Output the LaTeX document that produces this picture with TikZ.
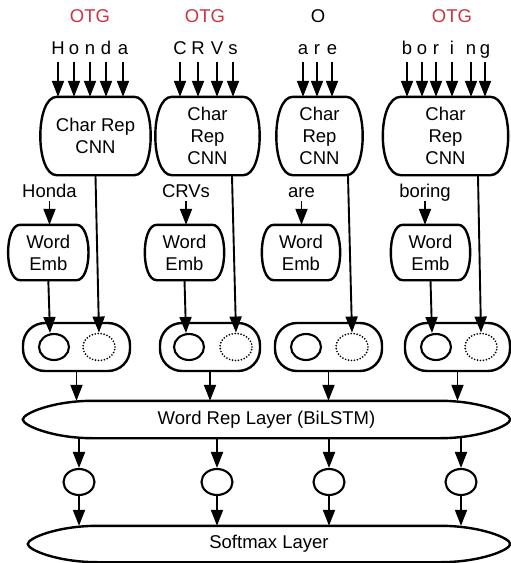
\documentclass[tikz,border=0pt]{standalone}
\usepackage{fontspec}
\setmainfont{Liberation Sans}
\usetikzlibrary{arrows.meta,shapes.geometric,calc}
\definecolor{otgred}{RGB}{204,51,68}
\tikzset{
  txt/.style={font=\fontsize{18.5}{22}\selectfont},
  box/.style={txt, align=center, inner sep=0pt},
  outline/.style={line width=2.4pt},
  arr/.style={line width=1.9pt, -{Triangle[length=16pt,width=12pt]}},
  letter/.style={txt, anchor=base, inner sep=0pt},
  otg/.style={txt, anchor=base, inner sep=0pt, text=otgred},
  pill/.style={draw, line width=2.4pt, rounded corners=22pt, minimum height=48pt, inner sep=0pt},
  solc/.style={draw, ellipse, line width=2.1pt, minimum width=30pt, minimum height=26pt, inner sep=0pt},
  dotc/.style={draw, ellipse, line width=1.9pt, dash pattern=on 0pt off 3pt, line cap=round, minimum width=32pt, minimum height=27pt, inner sep=0pt},
  smallc/.style={draw, ellipse, line width=2.1pt, minimum width=31pt, minimum height=26pt, inner sep=0pt},
  layer/.style={txt, inner sep=0pt},
}
\newcommand\bulgeout[3]{\draw[outline] ([xshift=#2]#1.north west) -- ([xshift=-#2]#1.north east) .. controls ([xshift=#3]#1.north east) and ([xshift=#3]#1.south east) .. ([xshift=-#2]#1.south east) -- ([xshift=#2]#1.south west) .. controls ([xshift=-#3]#1.south west) and ([xshift=-#3]#1.north west) .. cycle;}
\newcommand\lensout[1]{\draw[outline] (#1.west) .. controls ([yshift=6pt]#1.west) and ([xshift=30pt]#1.north west) .. ([xshift=70pt]#1.north west) -- ([xshift=-70pt]#1.north east) .. controls ([xshift=-30pt]#1.north east) and ([yshift=6pt]#1.east) .. (#1.east) .. controls ([yshift=-6pt]#1.east) and ([xshift=-30pt]#1.south east) .. ([xshift=-70pt]#1.south east) -- ([xshift=70pt]#1.south west) .. controls ([xshift=30pt]#1.south west) and ([yshift=-6pt]#1.west) .. cycle;}
\begin{document}
\begin{tikzpicture}[x=1pt,y=-1pt]
\useasboundingbox (0,0) rectangle (511,563);
% OTG labels
\node[otg] (t1) at (90,22) {OTG};
\node[otg] (t2) at (205,22) {OTG};
\node[letter] (t3) at (318,22) {O};
\node[otg] (t4) at (452,22) {OTG};
% CNN boxes
\node[box, minimum width=109pt, minimum height=78pt] (cnn1) at (95.5,136) {Char Rep\\CNN};
\node[box, minimum width=103pt, minimum height=78pt] (cnn2) at (207.5,136) {Char\\Rep\\CNN};
\node[box, minimum width=85pt, minimum height=78pt] (cnn3) at (319.5,136) {Char\\Rep\\CNN};
\node[box, minimum width=125pt, minimum height=78pt] (cnn4) at (445.5,136) {Char\\Rep\\CNN};
\bulgeout{cnn1}{16pt}{6pt}
\bulgeout{cnn2}{16pt}{6pt}
\bulgeout{cnn3}{16pt}{6pt}
\bulgeout{cnn4}{18pt}{6pt}
% letters
\foreach \ch/\x [count=\i] in {H/58,o/74,n/90,d/106,a/123}{
  \node[letter] (a\i) at (\x,54) {\ch};
  \draw[arr] ([yshift=-8pt]a\i.base) -- (a\i.base |- cnn1.north);
}
\foreach \ch/\x [count=\i] in {C/180,R/198,V/217,s/233}{
  \node[letter] (b\i) at (\x,54) {\ch};
  \draw[arr] ([yshift=-8pt]b\i.base) -- (b\i.base |- cnn2.north);
}
\foreach \ch/\x [count=\i] in {a/303,r/317,e/332}{
  \node[letter] (c\i) at (\x,54) {\ch};
  \draw[arr] ([yshift=-8pt]c\i.base) -- (c\i.base |- cnn3.north);
}
\foreach \ch/\x [count=\i] in {b/407,o/422,r/436,i/452,n/471,g/485}{
  \node[letter] (d\i) at (\x,54) {\ch};
  \draw[arr] ([yshift=-8pt]d\i.base) -- (d\i.base |- cnn4.north);
}
% word labels
\node[letter] (w1) at (49.5,197) {Honda};
\node[letter] (w2) at (186,197) {CRVs};
\node[letter] (w3) at (301.5,197) {are};
\node[letter] (w4) at (425,197) {boring};
% Word Emb boxes
\node[box, minimum width=80pt, minimum height=55pt] (web1) at (48.3,252.5) {Word\\Emb};
\node[box, minimum width=79pt, minimum height=55pt] (web2) at (184.5,252.5) {Word\\Emb};
\node[box, minimum width=78pt, minimum height=55pt] (web3) at (301,252.5) {Word\\Emb};
\node[box, minimum width=79pt, minimum height=55pt] (web4) at (430.5,252.5) {Word\\Emb};
\bulgeout{web1}{12pt}{4pt}
\bulgeout{web2}{12pt}{4pt}
\bulgeout{web3}{12pt}{4pt}
\bulgeout{web4}{12pt}{4pt}
\draw[arr] ([yshift=-4pt]w1.base) -- (w1.base |- web1.north);
\draw[arr] ([yshift=-4pt]w2.base) -- (w2.base |- web2.north);
\draw[arr] ([yshift=-4pt]w3.base) -- (w3.base |- web3.north);
\draw[arr] ([yshift=-4pt]w4.base) -- (w4.base |- web4.north);
% pills
\node[pill, minimum width=107pt] (p1) at (76.5,347) {};
\node[pill, minimum width=100pt] (p2) at (210,347) {};
\node[pill, minimum width=107pt] (p3) at (328.5,347) {};
\node[pill, minimum width=105pt] (p4) at (457.5,347) {};
\node[solc] (s1) at (54,347) {};
\node[dotc] (o1) at (99,347) {};
\node[solc] (s2) at (189,347) {};
\node[dotc] (o2) at (236,347) {};
\node[solc] (s3) at (306,347) {};
\node[dotc] (o3) at (352,347) {};
\node[solc] (s4) at (436,347) {};
\node[dotc] (o4) at (481,347) {};
% CNN -> dotted
\draw[arr] ([yshift=-1pt]cnn1.south) -- (o1.north);
\draw[arr] ([xshift=24.5pt,yshift=-1pt]cnn2.south) -- (o2.north);
\draw[arr] ([xshift=28.5pt,yshift=-1pt]cnn3.south) -- (o3.north);
\draw[arr] ([xshift=32.5pt,yshift=-1pt]cnn4.south) -- (o4.north);
% Word Emb -> solid
\draw[arr] (web1.south) -- ([xshift=-4pt]s1.north);
\draw[arr] (web2.south) -- ([xshift=-3pt]s2.north);
\draw[arr] (web4.south) -- ([xshift=-4pt]s4.north);
% layers
\node[layer, minimum width=487pt, minimum height=37pt] (wrl) at (266.5,419.5) {Word Rep Layer (BiLSTM)};
\lensout{wrl}
\node[layer, minimum width=482pt, minimum height=36pt] (smx) at (269,544) {Softmax Layer};
\lensout{smx}
\foreach \i in {1,...,4}{
  \draw[arr] (p\i.south) -- (p\i.south |- wrl.north);
}
\node[smallc] (h1) at (79,482) {};
\node[smallc] (h2) at (217,482) {};
\node[smallc] (h3) at (329,482) {};
\node[smallc] (h4) at (461,482) {};
\foreach \i in {1,...,4}{
  \draw[arr] (h\i.north |- wrl.south) -- (h\i.north);
  \draw[arr] (h\i.south) -- (h\i.south |- smx.north);
}
\end{tikzpicture}
\end{document}
